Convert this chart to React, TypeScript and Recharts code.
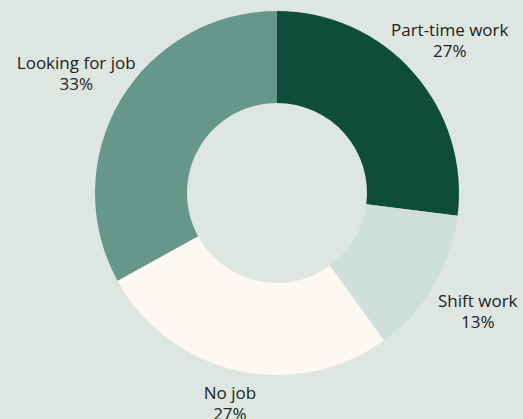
import { PieChart, Pie, Cell } from 'recharts'

const categories = ['Part-time work', 'Shift work', 'No job', 'Looking for job']
const shares = [27, 13, 27, 33]
const colors = ['#0e4d39', '#cfe0da', '#fdf8f1', '#66978a']

const data = categories.map((name, i) => ({ name, value: shares[i] }))

const RADIAN = Math.PI / 180

const renderLabel = (props: any) => {
  const { cx, cy, midAngle, name, value } = props
  const cos = Math.cos(-midAngle * RADIAN)
  const sin = Math.sin(-midAngle * RADIAN)
  // labels sit further out on the sides than at top/bottom
  const r = 210 + 27 * Math.abs(cos)
  const x = cx + r * cos
  const y = cy + r * sin
  return (
    <text
      x={x}
      y={y}
      textAnchor="middle"
      fill="#222"
      fontSize={17}
      fontFamily="'Open Sans', sans-serif"
    >
      <tspan x={x} y={y - 5}>{name}</tspan>
      <tspan x={x} y={y + 16}>{value}%</tspan>
    </text>
  )
}

export default function App() {
  return (
    <div
      style={{
        position: 'fixed',
        left: 0,
        top: 0,
        width: 523,
        height: 419,
        background: '#dde6e1',
      }}
    >
      <PieChart width={523} height={419} margin={{ top: 0, right: 0, bottom: 0, left: 0 }}>
        <Pie
          data={data}
          dataKey="value"
          cx={277}
          cy={193}
          innerRadius={90}
          outerRadius={182}
          startAngle={90}
          endAngle={-270}
          stroke="none"
          label={renderLabel}
          labelLine={false}
          isAnimationActive={false}
        >
          {data.map((entry, index) => (
            <Cell key={entry.name} fill={colors[index]} />
          ))}
        </Pie>
      </PieChart>
    </div>
  )
}
